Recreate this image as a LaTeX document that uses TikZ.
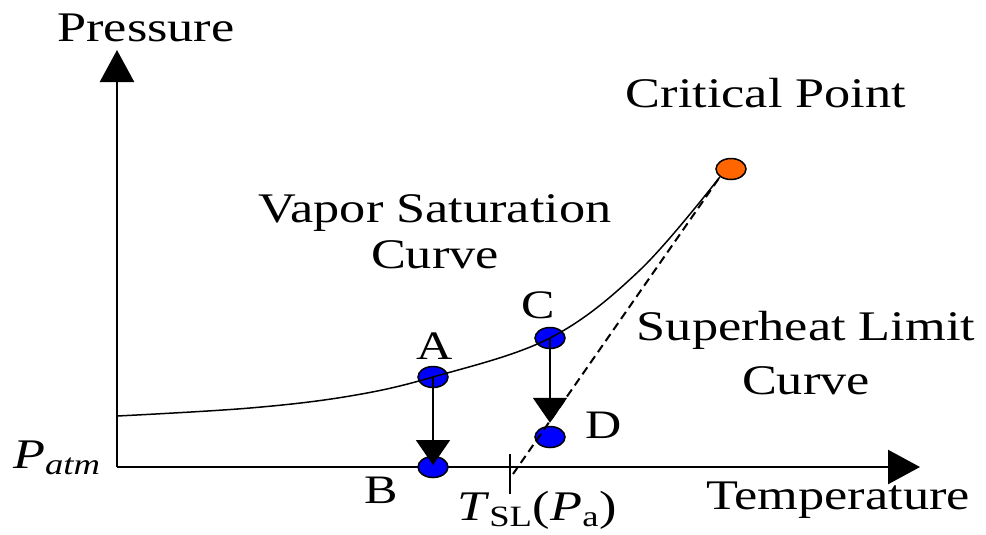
\documentclass[tikz,border=0pt]{standalone}
\usepackage{fontspec}
\setmainfont[FakeStretch=1.24]{Liberation Serif}
\usetikzlibrary{arrows.meta,shapes.geometric}
\definecolor{critorange}{RGB}{255,102,0}
\tikzset{
  lbl/.style={font=\fontsize{24}{28}\selectfont, inner sep=0pt},
  ptlbl/.style={font=\fontsize{23}{26}\selectfont, inner sep=0pt},
  statedot/.style={ellipse, draw=black, fill=blue, line width=0.3mm, minimum width=6mm, minimum height=4.2mm, inner sep=0pt},
  critdot/.style={statedot, fill=critorange},
  axis/.style={line width=0.5mm, -{Triangle[length=6.4mm,width=6.8mm]}},
  process/.style={line width=0.4mm, -{Triangle[length=5mm,width=6.8mm]}}
}
\begin{document}
\begin{tikzpicture}[x=0.2mm,y=-0.2mm]
    \useasboundingbox (0,0) rectangle (986,534);

    \coordinate (O) at (117,467);
    \coordinate (ytop) at (117,50);
    \coordinate (xend) at (920,467);
    \coordinate (sat0) at (117,416);
    \coordinate (slbot) at (513,474);
    \coordinate (tick1) at (510,454);
    \coordinate (tick2) at (510,494);

    % Axes
    \draw[axis] (O) -- (ytop);
    \draw[axis] (O) -- (xend);
    \draw[line width=0.4mm] (tick1) -- (tick2);

    % Points
    \node[statedot] (A) at (433,377) {};
    \node[statedot] (B) at (433,467) {};
    \node[statedot] (C) at (550,338) {};
    \node[statedot] (D) at (550,437) {};
    \node[critdot] (crit) at (731,169) {};

    % Curves
    \draw[line width=0.3mm] plot[smooth, tension=0.6] coordinates
        {(sat0) (250,408) (350,396) (A.center) (C.center) (640,270) (crit.south west)};
    \draw[line width=0.4mm, dash pattern=on 1.7mm off 1mm] (slbot) -- (crit.south west);

    \draw[process] (A.center) -- ([yshift=0.4mm]B.center);
    \draw[process] (C.center) -- ([yshift=0.6mm]D.north);

    % Labels
    \node[lbl] (plbl) at (146,28) {Pressure};
    \node[lbl] (tlbl) at (838,500) {Temperature};
    \node[lbl] (critlbl) at (766,93) {Critical Point};
    \node[lbl, align=center] (vaplbl) at (435,232) {Vapor Saturation\\[-2pt]Curve};
    \node[lbl, align=center] (shlbl) at (806,353) {Superheat Limit\\[3pt]Curve};
    \node[ptlbl] (alab) at (435,346) {A};
    \node[ptlbl] (blab) at (381,490) {B};
    \node[ptlbl] (clab) at (538,305) {C};
    \node[ptlbl] (dlab) at (604,425) {D};
    \node[lbl] (patm) at (57,458) {\textit{P}\textsubscript{\textit{atm}}};
    \node[lbl] (tsl) at (537,510) {\textit{T}\textsubscript{SL}(\textit{P}\textsubscript{a})};
\end{tikzpicture}
\end{document}
